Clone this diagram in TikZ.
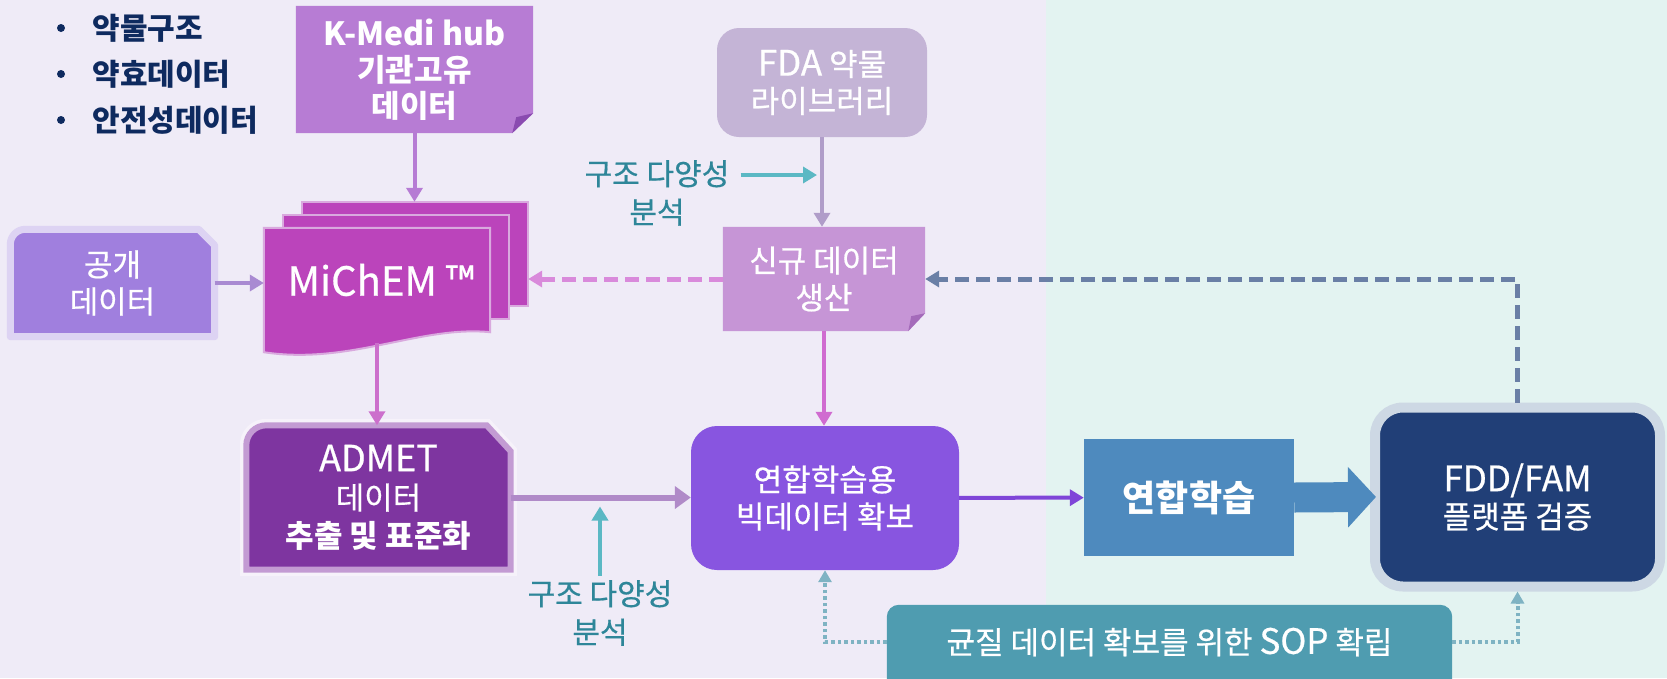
\documentclass[tikz,border=0pt]{standalone}
\usepackage{fontspec}
\setmainfont{Noto Sans CJK KR}[UprightFeatures={FakeBold=0.6}]
\usepackage{tikz}
\usetikzlibrary{arrows.meta,positioning,calc,backgrounds}
\definecolor{BgLeft}{HTML}{EFEBF7}
\definecolor{BgRight}{HTML}{E3F3F1}
\definecolor{Navy}{HTML}{0E2A5F}
\definecolor{KMedi}{HTML}{B77CD4}
\definecolor{KMediFold}{HTML}{8A4BB0}
\definecolor{MiChEM}{HTML}{BB44BB}
\definecolor{PageEdge}{HTML}{D9A9DE}
\definecolor{Gonggae}{HTML}{A07FDE}
\definecolor{GonggaeEdge}{HTML}{DDD3F3}
\definecolor{AdmetFill}{HTML}{7E35A0}
\definecolor{AdmetEdge}{HTML}{C39BD3}
\definecolor{AdmetGlow}{HTML}{F6F2FA}
\definecolor{FdaFill}{HTML}{C4B4D6}
\definecolor{NewFill}{HTML}{C695D6}
\definecolor{NewFold}{HTML}{A46BBA}
\definecolor{BigData}{HTML}{8855E0}
\definecolor{FlBlue}{HTML}{4E8ABE}
\definecolor{FddFill}{HTML}{213F77}
\definecolor{FddRing}{HTML}{CDD8E4}
\definecolor{SopFill}{HTML}{4F9CB0}
\definecolor{SopDot}{HTML}{7FB3C3}
\definecolor{TealText}{HTML}{2E8699}
\definecolor{TealArrow}{HTML}{5BB8C4}
\definecolor{PinkDash}{HTML}{D98ADB}
\definecolor{NavyDash}{HTML}{6A7FA6}
\definecolor{KArrow}{HTML}{B67CD4}
\definecolor{GArrow}{HTML}{A98AD2}
\definecolor{MArrow}{HTML}{CC6FCC}
\definecolor{AArrow}{HTML}{B08AC8}
\definecolor{FArrow}{HTML}{B09DC9}
\definecolor{NArrow}{HTML}{D06BD0}
\definecolor{BArrow}{HTML}{7F45D8}

\begin{document}
\begin{tikzpicture}[
  x=1pt, y=-1pt,
  txt/.style={text=white, align=center, inner sep=0pt, font=\fontsize{31}{37}\selectfont},
  arrow/.style={-{Triangle[length=14pt,width=16pt]}, line width=4pt},
  pinkdash/.style={arrow, draw=PinkDash, line width=5pt, dash pattern=on 14pt off 7pt},
  navydash/.style={arrow, draw=NavyDash, line width=5pt, dash pattern=on 14pt off 7pt},
  dotline/.style={draw=SopDot, line width=4pt, dash pattern=on 3.5pt off 3pt, -{Triangle[length=12pt,width=13pt]}},
  tealarrow/.style={arrow, draw=TealArrow},
  note/.style={text=TealText, inner sep=5pt, text height=24pt, text depth=4pt, font=\fontsize{30}{36}\selectfont},
  item/.style={text=Navy, inner sep=0pt, font=\bfseries\fontsize{30}{36}\selectfont},
  bullet/.style={circle, fill=Navy, inner sep=0pt, minimum size=8pt},
  page/.style={minimum width=226pt, minimum height=104pt, inner sep=0pt},
  bigarrow/.style={draw=FlBlue, line width=30pt, -{Triangle[length=28pt,width=59pt]}}
]
  \useasboundingbox (0,0) rectangle (1667,678);

  % bullet list
  \foreach \txt [count=\i] in {약물구조,약효데이터,안전성데이터} {
    \node[bullet] (dot\i) at (61,{28+46*(\i-1)}) {};
    \node[item, right=27pt of dot\i] (item\i) {\txt};
  }

  \node[txt, font=\bfseries\fontsize{31}{36}\selectfont, minimum width=237pt, minimum height=127pt] (kmedi) at (414.5,69.5)
    {{\fontsize{32}{36}\selectfont K-Medi hub}\\기관고유\\데이터};
  \node[page] (michem3) at (415,254) {};
  \node[page] (michem2) at (396,267) {};
  \node[page, txt, font=\fontsize{40}{44}\selectfont] (michem1) at (377,280) {\hspace*{8pt}MiChEM ™};
  \node[txt, minimum width=204pt, minimum height=107pt] (gonggae) at (112.5,283) {공개\\데이터};
  \node[txt, font=\fontsize{31}{38}\selectfont, minimum width=264pt, minimum height=144pt] (admet) at (378.5,497.5)
    {{\fontsize{36}{40}\selectfont ADMET}\\데이터\\\textbf{추출 및 표준화}};

  \node[txt, fill=FdaFill, rounded corners=22pt, minimum width=210pt, minimum height=109pt] (fda) at (822,82.5)
    {{\fontsize{35}{37}\selectfont FDA} 약물\\라이브러리};
  \node[txt, minimum width=202pt, minimum height=104pt] (new) at (824,279) {신규 데이터\\생산};
  \node[note] (div1) at (657,175) {구조 다양성};
  \node[note, below=0pt of div1] (div1b) {분석};

  \node[txt, fill=BigData, rounded corners=26pt, minimum width=268pt, minimum height=144pt] (bigdata) at (825,498)
    {연합학습용\\빅데이터 확보};
  \node[note] (div2) at (600,595) {구조 다양성};
  \node[note, below=0pt of div2] (div2b) {분석};

  \node[txt, font=\bfseries\fontsize{36}{40}\selectfont, fill=FlBlue, minimum width=210pt, minimum height=117pt] (fl) at (1189,497.5) {연합학습};
  \node[txt, fill=FddFill, draw=FddRing, line width=10pt, rounded corners=28pt, minimum width=285pt, minimum height=179pt] (fdd) at (1517.5,497)
    {{\fontsize{35}{38}\selectfont FDD/FAM}\\플랫폼 검증};
  \node[txt, minimum width=565pt, minimum height=74pt] (sop) at (1169.5,642)
    {균질 데이터 확보를 위한 {\fontsize{35}{38}\selectfont SOP} 확립};

  % connectors
  \draw[arrow, KArrow] (kmedi.south) -- (kmedi.south |- michem3.north);
  \draw[arrow, GArrow] (gonggae.east) -- (gonggae.east -| michem1.west);
  \draw[arrow, MArrow, shorten <=11pt] (michem1.south) -- (michem1.south |- admet.north);
  \draw[arrow, AArrow, line width=6pt, -{Triangle[length=16pt,width=22pt]}] (admet.east) -- (admet.east -| bigdata.west);
  \draw[arrow, FArrow] (fda.south) -- (fda.south |- new.north);
  \draw[arrow, NArrow] (new.south) -- (new.south |- bigdata.north);
  \draw[arrow, BArrow] (bigdata) -- (fl);
  \draw[bigarrow, shorten >=-6pt] (fl.east) -- (fdd.west);
  \draw[pinkdash] (new.west) -- (new.west -| michem3.east);
  \draw[navydash] (fdd.north) |- (new.east);
  \draw[tealarrow, shorten <=6pt, shorten >=5pt] (div1.east) -- (div1.east -| fda.south);
  \draw[tealarrow, shorten >=9pt] (div2.north) -- (div2.north |- admet.east);
  \draw[dotline] (sop.west) -| (bigdata.south);
  \draw[dotline] (sop.east) -| (fdd.south);

  \begin{scope}[on background layer]
    \fill[BgLeft] (0,0) rectangle (1046,678);
    \fill[BgRight] (1046,0) rectangle (1667,678);
    % folded notes
    \fill[KMedi] (kmedi.north west) -- (kmedi.north east) -- ($(kmedi.south east)+(0,-20)$)
      -- ($(kmedi.south east)+(-21,0)$) -- (kmedi.south west) -- cycle;
    \fill[KMediFold] ($(kmedi.south east)+(0,-20)$) -- ($(kmedi.south east)+(-21,0)$) -- ($(kmedi.south east)+(-17,-16)$) -- cycle;
    \fill[NewFill] (new.north west) -- (new.north east) -- ($(new.south east)+(0,-18)$)
      -- ($(new.south east)+(-17,0)$) -- (new.south west) -- cycle;
    \fill[NewFold] ($(new.south east)+(0,-18)$) -- ($(new.south east)+(-17,0)$) -- ($(new.south east)+(-14,-15)$) -- cycle;
    % stacked pages
    \filldraw[fill=MiChEM, draw=PageEdge, line width=2pt] (michem3.north west) rectangle (michem3.south east);
    \filldraw[fill=MiChEM, draw=PageEdge, line width=2pt] (michem2.north west) rectangle (michem2.south east);
    \filldraw[fill=MiChEM, draw=PageEdge, line width=2pt] (michem1.north west) -- (michem1.north east) -- (michem1.south east)
      .. controls +(-70,-7) and +(86,13) .. ($(michem1.south west)+(0,20)$) -- cycle;
    % snipped boxes
    \filldraw[fill=Gonggae, draw=GonggaeEdge, line width=7pt, line join=round] (gonggae.south west) -- ($(gonggae.north west)+(0,15)$)
      arc[start angle=180, end angle=90, radius=15pt] -- ($(gonggae.north east)+(-16,0)$) -- ($(gonggae.north east)+(0,16)$)
      -- (gonggae.south east) -- cycle;
    \filldraw[fill=AdmetFill, draw=AdmetEdge, line width=6pt, preaction={draw=AdmetGlow, line width=13pt}] (admet.south west)
      -- ($(admet.north west)+(0,20)$) arc[start angle=180, end angle=90, radius=20pt] -- ($(admet.north east)+(-24,0)$)
      -- ($(admet.north east)+(0,26)$) -- (admet.south east) -- cycle;
    \fill[SopFill, rounded corners=12pt] (sop.north west) rectangle ($(sop.south east)+(0,30)$);
  \end{scope}
\end{tikzpicture}
\end{document}
